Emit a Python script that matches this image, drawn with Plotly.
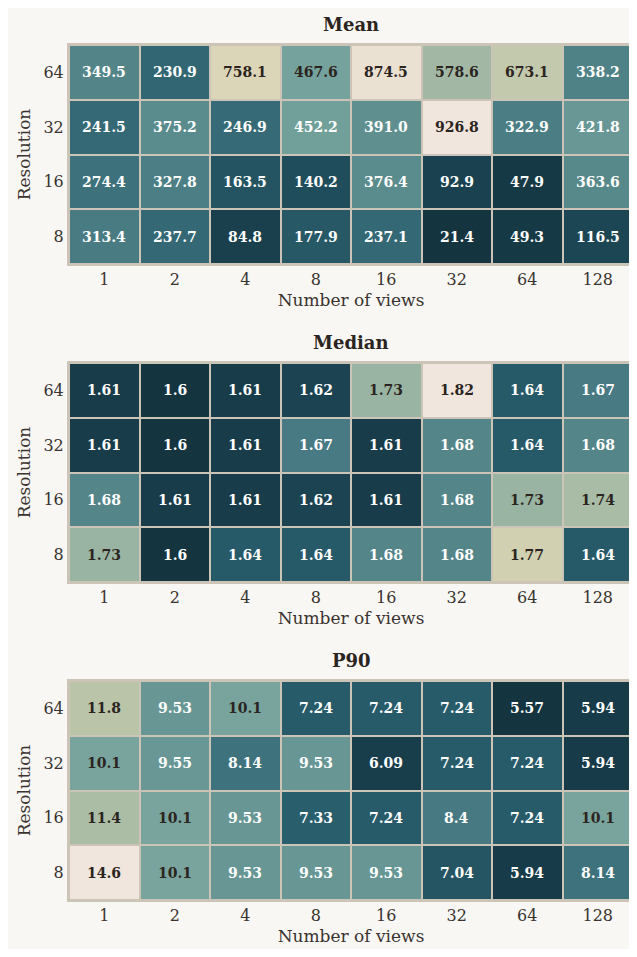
import plotly.graph_objects as go

views = ["1", "2", "4", "8", "16", "32", "64", "128"]
resolutions = ["8", "16", "32", "64"]  # bottom to top

mean_vals = [
    [313.4, 237.7, 84.8, 177.9, 237.1, 21.4, 49.3, 116.5],   # 8
    [274.4, 327.8, 163.5, 140.2, 376.4, 92.9, 47.9, 363.6],  # 16
    [241.5, 375.2, 246.9, 452.2, 391.0, 926.8, 322.9, 421.8],  # 32
    [349.5, 230.9, 758.1, 467.6, 874.5, 578.6, 673.1, 338.2],  # 64
]
median_vals = [
    [1.73, 1.6, 1.64, 1.64, 1.68, 1.68, 1.77, 1.64],
    [1.68, 1.61, 1.61, 1.62, 1.61, 1.68, 1.73, 1.74],
    [1.61, 1.6, 1.61, 1.67, 1.61, 1.68, 1.64, 1.68],
    [1.61, 1.6, 1.61, 1.62, 1.73, 1.82, 1.64, 1.67],
]
p90_vals = [
    [14.6, 10.1, 9.53, 9.53, 9.53, 7.04, 5.94, 8.14],
    [11.4, 10.1, 9.53, 7.33, 7.24, 8.4, 7.24, 10.1],
    [10.1, 9.55, 8.14, 9.53, 6.09, 7.24, 7.24, 5.94],
    [11.8, 9.53, 10.1, 7.24, 7.24, 7.24, 5.57, 5.94],
]
titles = ["Mean", "Median", "P90"]
formats = ["{:.1f}", "{:g}", "{:.3g}"]

colorscale = [
    [0.0, "#143440"],
    [0.1, "#1c4553"],
    [0.2, "#2a5f6d"],
    [0.3, "#42767f"],
    [0.4, "#5d8e8e"],
    [0.5, "#78a49e"],
    [0.6, "#9db6a3"],
    [0.7, "#bdc6aa"],
    [0.8, "#d9d5b5"],
    [0.9, "#e6ddcb"],
    [1.0, "#f0e6de"],
]

BG = "#f8f7f4"
GRID = "#ccc4b7"
DARK = "#2b2420"
AXC = "#3a3330"
SERIF = "DejaVu Serif"

W, H = 629, 941
OX, OY = 8, 8  # figure origin on page (body margin)
panels_px = [(45, 264), (363, 582), (681, 900)]
x0, x1 = 69, 633

xi = list(range(len(views)))
yi = list(range(len(resolutions)))

fig = go.Figure()
annotations = []
for i, (vals, title, fmt) in enumerate(zip([mean_vals, median_vals, p90_vals], titles, formats)):
    k = "" if i == 0 else str(i + 1)
    flat = [v for row in vals for v in row]
    vmin, vmax = min(flat), max(flat)
    fig.add_trace(go.Heatmap(
        z=vals, x=xi, y=yi, colorscale=colorscale,
        zmin=vmin, zmax=vmax, showscale=False, xgap=2, ygap=2,
        xaxis="x" + k, yaxis="y" + k, hoverinfo="z",
    ))
    for r, row in enumerate(vals):
        for c, v in enumerate(row):
            t = (v - vmin) / (vmax - vmin)
            annotations.append(dict(
                x=xi[c], y=yi[r], xref="x" + k, yref="y" + k,
                text="<b>" + fmt.format(v) + "</b>", showarrow=False,
                font=dict(family=SERIF, size=14, color=DARK if t > 0.485 else "#ffffff"),
            ))
    top, bot = panels_px[i]
    ydom = [1 - (bot - OY) / H, 1 - (top - OY) / H]
    xdom = [(x0 - OX) / W, (x1 - OX) / W]
    axis_common = dict(showline=True, linecolor=GRID, linewidth=2, mirror=True,
                       ticks="", showgrid=False, zeroline=False, fixedrange=True,
                       tickfont=dict(family=SERIF, size=16, color=AXC))
    fig.update_layout({
        "xaxis" + k: dict(domain=xdom, anchor="y" + k, range=[-0.5, len(views) - 0.5],
                          tickmode="array", tickvals=xi, ticktext=views,
                          title=dict(text="Number of views", font=dict(family=SERIF, size=17, color=AXC), standoff=6),
                          **axis_common),
        "yaxis" + k: dict(domain=ydom, anchor="x" + k, range=[-0.5, len(resolutions) - 0.5],
                          tickmode="array", tickvals=yi, ticktext=resolutions,
                          title=dict(text="Resolution", font=dict(family=SERIF, size=17, color=AXC), standoff=8),
                          **axis_common),
    })
    annotations.append(dict(
        x=(xdom[0] + xdom[1]) / 2, y=ydom[1], xref="paper", yref="paper",
        yanchor="bottom", yshift=8, text="<b>" + title + "</b>", showarrow=False,
        font=dict(family=SERIF, size=18, color=DARK),
    ))

fig.update_layout(
    width=W, height=H, margin=dict(l=0, r=0, t=0, b=0),
    paper_bgcolor=BG, plot_bgcolor=GRID, annotations=annotations,
    showlegend=False,
)
fig.write_html("out.html")
